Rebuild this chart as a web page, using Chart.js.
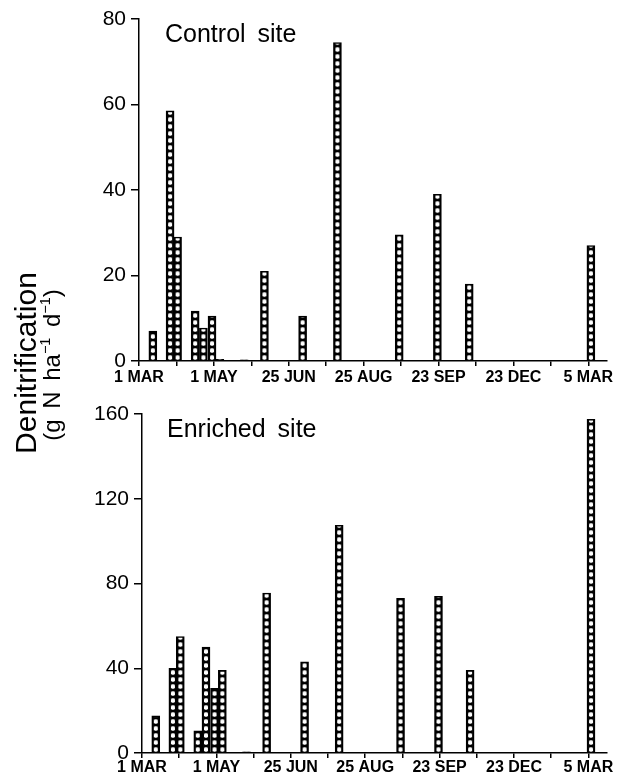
<!DOCTYPE html>
<html>
<head>
<meta charset="utf-8">
<script src="https://cdn.jsdelivr.net/npm/chart.js@4.4.1/dist/chart.umd.min.js"></script>
<style>
  html, body { margin: 0; padding: 0; background: #fff; }
  #page { position: relative; width: 618px; height: 775px; overflow: hidden; font-family: 'Liberation Sans', Arial, sans-serif; color: #000; }
  canvas { position: absolute; left: 0; }
  .site { position: absolute; font-size: 25px; line-height: 25px; word-spacing: 5px; white-space: nowrap; }
  .ytitle { position: absolute; white-space: nowrap; text-align: center; transform: rotate(-90deg); transform-origin: center center; }
  .ytitle sup { font-size: 0.6em; line-height: 0; position: relative; top: -0.1em; vertical-align: super; }
</style>
</head>
<body>
<div id="page">
  <canvas id="control-chart" width="618" height="392" style="top:0"></canvas>
  <canvas id="enriched-chart" width="618" height="383" style="top:392px"></canvas>
  <div class="site" style="left:165px; top:21px">Control site</div>
  <div class="site" style="left:167px; top:416px">Enriched site</div>
  <div class="ytitle" style="font-size:30px; line-height:30px; width:240px; left:-94px; top:348px">Denitrification</div>
  <div class="ytitle" style="font-size:24px; line-height:24px; width:240px; left:-68px; top:353px; word-spacing:4px">(g N ha<sup>−1</sup> d<sup>−1</sup>)</div>
</div>

<script>
/* ===== DENITRIFICATION, CONTROL vs ENRICHED ===== */

// sampling dates, as positions on the (non-linear) date axis: one unit per minor tick
const sampleX       = [0.37, 0.83, 1.03, 1.50, 1.72, 1.95, 2.16, 2.81, 3.35, 4.37, 5.30, 6.95, 7.97, 8.82, 12.07];
const controlVals   = [7, 58.5, 29, 11.7, 7.7, 10.5, 0.4, 0.3, 21, 10.5, 74.5, 29.5, 39, 18, 27];
const enrichedVals  = [17.5, 40, 55, 10.5, 50, 30.5, 39, 0.6, 75.5, 43, 107.5, 73, 74, 39, 157.5];
const tickLabels    = ['1 MAR', '1 MAY', '25 JUN', '25 AUG', '23 SEP', '23 DEC', '5 MAR'];

const BAR_PX  = 8;
const FONT    = "'Liberation Sans', Arial, sans-serif";

// dotted fill: white dot on black, one column per bar
const tile = document.createElement('canvas');
tile.width = 8; tile.height = 7;
(function () {
  const g = tile.getContext('2d');
  g.fillStyle = '#000'; g.fillRect(0, 0, 8, 7);
  g.fillStyle = '#fff';
  g.beginPath();
  if (g.roundRect) g.roundRect(2, 1.3, 4, 4.4, 1.4); else g.rect(2, 1.3, 4, 4.4);
  g.fill();
})();

function dotFill(ctx) {
  if (ctx.type !== 'data') return '#000';
  const chart = ctx.chart;
  const xs = chart.scales.x, ys = chart.scales.y;
  if (!xs || !ys || !ctx.parsed) return '#000';
  const left = xs.getPixelForValue(ctx.parsed.x) - BAR_PX / 2;
  const base = ys.getPixelForValue(0);
  const p = chart.ctx.createPattern(tile, 'repeat');
  p.setTransform(new DOMMatrix().translate(left, base));
  return p;
}

function buildChart(canvasId, values, yMax, yStep, opts) {
  const canvas = document.getElementById(canvasId);
  return new Chart(canvas, {
    type: 'bar',
    data: {
      datasets: [{
        data: sampleX.map((x, i) => ({ x, y: values[i] })),
        backgroundColor: dotFill,
        borderColor: '#000',
        borderWidth: 1.6,
        borderSkipped: 'start',
        barThickness: BAR_PX,
      }],
    },
    options: {
      responsive: false,
      animation: false,
      devicePixelRatio: 1,
      layout: { padding: { top: opts.padTop, right: 11, left: 0, bottom: 0 } },
      plugins: { legend: { display: false }, tooltip: { enabled: false } },
      scales: {
        x: {
          type: 'linear',
          min: 0,
          max: 12.5,
          offset: false,
          afterFit: s => { s.height = opts.xHeight; },
          grid: { offset: false, drawOnChartArea: false, drawTicks: true, tickLength: 5, color: '#000', lineWidth: 1.5 },
          border: { display: true, color: '#000', width: 1.5 },
          ticks: {
            stepSize: 1,
            includeBounds: false,
            autoSkip: false,
            maxRotation: 0,
            padding: opts.xPad,
            color: '#000',
            font: { family: FONT, size: 16, weight: 'bold' },
            callback: v => (Math.abs(v / 2 - Math.round(v / 2)) < 1e-6 ? tickLabels[Math.round(v / 2)] : ''),
          },
        },
        y: {
          min: 0,
          max: yMax,
          afterFit: s => { s.width = opts.yWidth; },
          grid: { drawOnChartArea: false, drawTicks: true, tickLength: 8, color: '#000', lineWidth: 1.5 },
          border: { display: true, color: '#000', width: 1.5 },
          ticks: {
            stepSize: yStep,
            padding: 5,
            color: '#000',
            font: { family: FONT, size: 21 },
          },
        },
      },
    },
  });
}

buildChart('control-chart',  controlVals,  80,  20, { padTop: 19, xHeight: 31, xPad: 2, yWidth: 139 });
buildChart('enriched-chart', enrichedVals, 160, 40, { padTop: 22, xHeight: 22, xPad: 0, yWidth: 142 });
</script>
</body>
</html>
